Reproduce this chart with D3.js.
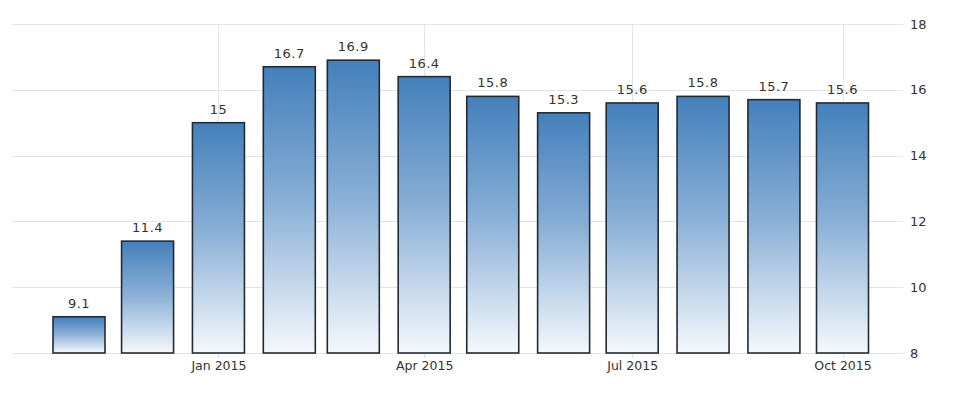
<!DOCTYPE html>
<html>
<head>
<meta charset="utf-8">
<script src="https://cdn.jsdelivr.net/npm/d3@7"></script>
<style>
  html, body { margin: 0; padding: 0; background: #fff; }
  svg { display: block; }
  text { font-family: "DejaVu Sans", Verdana, sans-serif; }
</style>
</head>
<body>
<svg id="chart" width="975" height="395"></svg>
<script>
const months = ["2014-11-01","2014-12-01","2015-01-01","2015-02-01","2015-03-01","2015-04-01","2015-05-01","2015-06-01","2015-07-01","2015-08-01","2015-09-01","2015-10-01"];
const values = [9.1, 11.4, 15, 16.7, 16.9, 16.4, 15.8, 15.3, 15.6, 15.8, 15.7, 15.6];
const xTicks = ["2015-01-01", "2015-04-01", "2015-07-01", "2015-10-01"];
const xTickLabels = ["Jan 2015", "Apr 2015", "Jul 2015", "Oct 2015"];
const yTicks = [8, 10, 12, 14, 16, 18];

const parse = d3.utcParse("%Y-%m-%d");
const dates = months.map(parse);
const tickDates = xTicks.map(parse);

const svg = d3.select("#chart");

const x = d3.scaleUtc()
  .domain([dates[0], dates[dates.length - 1]])
  .range([79, 842.5]);
const barW = 52;

const y = d3.scaleLinear()
  .domain([8, 18])
  .range([353, 24]);

const defs = svg.append("defs");
const grad = defs.append("linearGradient")
  .attr("id", "barGrad")
  .attr("x1", 0).attr("y1", 0).attr("x2", 0).attr("y2", 1);
grad.append("stop").attr("offset", "0%").attr("stop-color", "#4480bb");
grad.append("stop").attr("offset", "45%").attr("stop-color", "#85acd4");
grad.append("stop").attr("offset", "100%").attr("stop-color", "#f5f8fc");

// horizontal gridlines
svg.append("g")
  .selectAll("line")
  .data(yTicks)
  .join("line")
  .attr("x1", 12)
  .attr("x2", 903)
  .attr("y1", d => Math.round(y(d)) + 0.5)
  .attr("y2", d => Math.round(y(d)) + 0.5)
  .attr("stroke", "#e4e4e4")
  .attr("stroke-width", 1);

// vertical gridlines at labelled months
svg.append("g")
  .selectAll("line")
  .data(tickDates)
  .join("line")
  .attr("x1", d => Math.round(x(d)) + 0.5)
  .attr("x2", d => Math.round(x(d)) + 0.5)
  .attr("y1", y(18))
  .attr("y2", y(8) + 5)
  .attr("stroke", "#e4e4e4")
  .attr("stroke-width", 1);

// y axis (right)
const yAxis = d3.axisRight(y).tickValues(yTicks).tickSize(0).tickPadding(0);
const yg = svg.append("g")
  .attr("transform", "translate(910,0)")
  .call(yAxis);
yg.select(".domain").remove();
yg.selectAll("text")
  .attr("font-size", 13)
  .attr("fill", "#333")
  .attr("x", 0);

// x axis
const xAxis = d3.axisBottom(x)
  .tickValues(tickDates)
  .tickFormat((d, i) => xTickLabels[i])
  .tickSize(0).tickPadding(0);
const xg = svg.append("g")
  .attr("transform", "translate(0,361)")
  .call(xAxis);
xg.select(".domain").remove();
xg.selectAll("text")
  .attr("font-size", 12.5)
  .attr("fill", "#333");

// bars
svg.append("g")
  .selectAll("rect")
  .data(values)
  .join("rect")
  .attr("x", (d, i) => x(dates[i]) - barW / 2)
  .attr("width", barW)
  .attr("y", d => y(d))
  .attr("height", d => y(8) - y(d))
  .attr("fill", "url(#barGrad)")
  .attr("stroke", "#222b35")
  .attr("stroke-width", 1.6);

// value labels
svg.append("g")
  .selectAll("text")
  .data(values)
  .join("text")
  .attr("x", (d, i) => x(dates[i]))
  .attr("y", d => y(d) - 9)
  .attr("text-anchor", "middle")
  .attr("font-size", 13)
  .attr("fill", "#333")
  .attr("letter-spacing", 0.5)
  .text(d => d);
</script>
</body>
</html>
